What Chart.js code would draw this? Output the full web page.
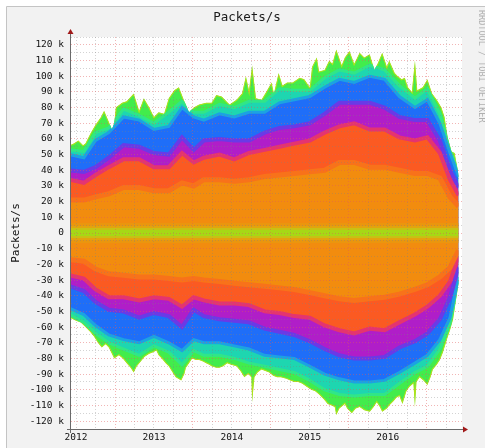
<!DOCTYPE html>
<html>
<head>
<meta charset="utf-8">
<script src="https://cdn.jsdelivr.net/npm/chart.js@4.4.1/dist/chart.umd.min.js"></script>
<style>
  html, body { margin: 0; padding: 0; background: #fff; }
  canvas { display: block; }
</style>
</head>
<body>
<canvas id="myChart" width="485" height="448"></canvas>
<script>
// outer envelope, upper half (k packets/s)
const envTopYears = [2011.92, 2011.97, 2012.03, 2012.09, 2012.12, 2012.19, 2012.25, 2012.32, 2012.36, 2012.42,
  2012.46, 2012.49, 2012.51, 2012.59, 2012.65, 2012.74, 2012.81, 2012.87, 2012.94, 2013.00,
  2013.06, 2013.13, 2013.19, 2013.26, 2013.32, 2013.39, 2013.45, 2013.51, 2013.58, 2013.67,
  2013.74, 2013.80, 2013.87, 2013.97, 2014.06, 2014.13, 2014.18, 2014.22, 2014.26, 2014.31,
  2014.38, 2014.44, 2014.51, 2014.54, 2014.60, 2014.65, 2014.71, 2014.78, 2014.87, 2014.93,
  2015.00, 2015.03, 2015.09, 2015.12, 2015.19, 2015.25, 2015.29, 2015.34, 2015.41, 2015.45,
  2015.51, 2015.57, 2015.64, 2015.70, 2015.77, 2015.83, 2015.87, 2015.93, 2015.99, 2016.02,
  2016.09, 2016.13, 2016.18, 2016.22, 2016.26, 2016.31, 2016.35, 2016.38, 2016.45, 2016.51,
  2016.57, 2016.63, 2016.69, 2016.73, 2016.77, 2016.82, 2016.86, 2016.90, 2016.91];
const envTopK = [56, 57, 59, 56, 57, 64, 69, 74, 78, 71,
  66, 70, 80, 83, 84, 89, 78, 86, 80, 74,
  77, 76, 86, 91, 93, 84, 77, 80, 82, 83,
  83, 88, 87, 82, 85, 89, 100, 91, 107, 86,
  85, 90, 96, 89, 102, 94, 96, 96, 99, 98,
  93, 106, 112, 103, 104, 110, 108, 117, 107, 112,
  116, 108, 115, 112, 114, 104, 108, 115, 106, 110,
  102, 100, 98, 99, 93, 90, 110, 91, 93, 98,
  89, 85, 80, 74, 61, 52, 51, 40, 36];

// outer envelope, lower half
const envBotYears = [2011.92, 2012.00, 2012.06, 2012.12, 2012.18, 2012.23, 2012.28, 2012.33, 2012.38, 2012.42,
  2012.49, 2012.55, 2012.60, 2012.65, 2012.70, 2012.74, 2012.78, 2012.83, 2012.88, 2012.94,
  2012.99, 2013.03, 2013.06, 2013.10, 2013.15, 2013.19, 2013.24, 2013.28, 2013.35, 2013.39,
  2013.41, 2013.45, 2013.49, 2013.54, 2013.58, 2013.63, 2013.67, 2013.71, 2013.74, 2013.80,
  2013.84, 2013.89, 2013.94, 2013.99, 2014.06, 2014.11, 2014.16, 2014.21, 2014.25, 2014.26,
  2014.29, 2014.33, 2014.38, 2014.43, 2014.48, 2014.53, 2014.58, 2014.63, 2014.70, 2014.75,
  2014.80, 2014.85, 2014.90, 2014.96, 2015.02, 2015.07, 2015.12, 2015.18, 2015.23, 2015.28,
  2015.32, 2015.34, 2015.38, 2015.45, 2015.48, 2015.54, 2015.59, 2015.64, 2015.70, 2015.77,
  2015.82, 2015.86, 2015.90, 2015.93, 2015.99, 2016.02, 2016.08, 2016.11, 2016.15, 2016.19,
  2016.24, 2016.28, 2016.33, 2016.35, 2016.37, 2016.41, 2016.46, 2016.51, 2016.55, 2016.58,
  2016.63, 2016.67, 2016.71, 2016.76, 2016.80, 2016.84, 2016.87, 2016.91];
const envBotK = [-54, -56, -57, -60, -63, -66, -70, -73, -71, -73,
  -80, -78, -80, -83, -86, -89, -85, -82, -79, -77,
  -76, -75, -78, -80, -83, -85, -89, -92, -94, -90,
  -86, -83, -80, -81, -81, -82, -83, -84, -85, -86,
  -86, -85, -83, -84, -85, -88, -92, -90, -92, -108,
  -92, -89, -87, -88, -89, -91, -92, -92, -93, -94,
  -95, -95, -96, -98, -100, -101, -103, -106, -109, -110,
  -111, -116, -112, -109, -112, -115, -112, -111, -113, -114,
  -111, -108, -111, -114, -112, -110, -107, -105, -104, -109,
  -101, -98, -96, -111, -95, -92, -94, -97, -92, -87,
  -84, -81, -76, -68, -62, -55, -45, -32];

// colour band edges, read on a coarser time grid
const bandYears = [2011.92, 2012.10, 2012.25, 2012.42, 2012.61, 2012.81, 2013.00, 2013.19, 2013.36, 2013.51,
  2013.64, 2013.84, 2014.03, 2014.22, 2014.42, 2014.61, 2014.80, 2015.00, 2015.19, 2015.38,
  2015.57, 2015.77, 2015.96, 2016.15, 2016.35, 2016.51, 2016.67, 2016.80, 2016.91];
const tealTopK   = [53, 52, 64, 67, 79, 75, 70, 77, 84, 77, 77, 82, 80, 84, 84, 92, 91, 91, 99, 104, 102, 107, 104, 94, 86, 92, 76, 53, 38];
const blueTopK   = [50, 48, 59, 64, 74, 72, 66, 68, 80, 74, 72, 76, 74, 77, 77, 83, 85, 87, 93, 98, 96, 100, 98, 87, 80, 85, 70, 51, 36];
const purpleTopK = [40, 39, 42, 48, 56, 55, 51, 50, 61, 53, 59, 60, 59, 59, 64, 67, 68, 70, 76, 83, 83, 83, 80, 74, 72, 72, 59, 40, 29];
const redTopK    = [34, 32, 37, 42, 47, 47, 42, 42, 51, 45, 48, 50, 47, 51, 53, 55, 57, 59, 64, 68, 70, 66, 66, 61, 59, 61, 51, 34, 24];
const orangeTopK = [21, 21, 23, 25, 29, 29, 27, 27, 32, 30, 34, 34, 33, 34, 36, 37, 38, 39, 40, 45, 45, 42, 42, 40, 38, 38, 35, 23, 17];
const tealBotK   = [-52, -57, -64, -70, -74, -78, -72, -76, -84, -75, -78, -78, -80, -83, -85, -87, -89, -94, -100, -103, -104, -103, -103, -96, -89, -85, -74, -58, -30];
const blueBotK   = [-48, -52, -59, -65, -68, -70, -66, -70, -75, -68, -70, -70, -72, -74, -78, -79, -80, -85, -90, -93, -95, -95, -94, -89, -83, -78, -68, -54, -28];
const purpleBotK = [-34, -37, -44, -49, -50, -54, -51, -53, -60, -49, -53, -55, -56, -57, -61, -63, -65, -69, -74, -78, -80, -80, -79, -73, -69, -64, -55, -41, -22];
const redBotK    = [-27, -29, -36, -41, -41, -43, -41, -42, -47, -41, -43, -45, -45, -46, -50, -51, -53, -54, -59, -62, -64, -61, -62, -57, -52, -47, -40, -31, -15];
const orangeBotK = [-17, -18, -23, -26, -27, -28, -28, -29, -30, -29, -30, -31, -32, -33, -34, -35, -36, -38, -40, -42, -43, -42, -41, -39, -36, -33, -28, -22, -11];

// thin bright line around zero
const coreYears = [2011.92, 2016.91];
const haloTopK = [5.5, 5.5];
const haloBotK = [-5.5, -5.5];
const coreTopK = [2.5, 2.5];
const coreBotK = [-2.5, -2.5];

const yearLabels = [2012, 2013, 2014, 2015, 2016];
const yLabelK = [-120, -110, -100, -90, -80, -70, -60, -50, -40, -30, -20, -10, 0,
  10, 20, 30, 40, 50, 60, 70, 80, 90, 100, 110, 120];

const pts = (xs, ys) => xs.map((x, i) => ({ x: x, y: ys[i] }));

const quarterTicks = [];
yearLabels.forEach(y => { [0, 0.25, 0.5, 0.75].forEach(q => quarterTicks.push(y + q)); });
const yGridTicks = [];
for (let v = -125; v <= 125; v += 5) yGridTicks.push(v);

const FONT = 'DejaVu Sans Mono';
Chart.defaults.font.family = FONT;

// fill = band colour, edge = blend towards the next band out
function band(data, color, edge, width) {
  return {
    data: data,
    backgroundColor: color,
    borderColor: edge,
    borderWidth: width,
    pointRadius: 0,
    fill: 'origin',
    tension: 0
  };
}

// innermost first so it ends up on top
const datasets = [
  band(pts(coreYears, coreTopK), '#a6d816', '#c8c014', 2),
  band(pts(coreYears, coreBotK), '#a6d816', '#c8c014', 2),
  band(pts(coreYears, haloTopK), '#e2a40e', '#ea960e', 3),
  band(pts(coreYears, haloBotK), '#e2a40e', '#ea960e', 3),
  band(pts(bandYears, orangeTopK), '#f28c0e', '#f8721a', 5),
  band(pts(bandYears, orangeBotK), '#f28c0e', '#f8721a', 5),
  band(pts(bandYears, redTopK), '#fb5a22', '#e43470', 4),
  band(pts(bandYears, redBotK), '#fb5a22', '#e43470', 4),
  band(pts(bandYears, purpleTopK), '#b01ec8', '#6a3ae6', 4),
  band(pts(bandYears, purpleBotK), '#b01ec8', '#6a3ae6', 4),
  band(pts(bandYears, blueTopK), '#1f6ef8', '#1ca2e2', 3),
  band(pts(bandYears, blueBotK), '#1f6ef8', '#1ca2e2', 3),
  band(pts(bandYears, tealTopK), '#1ed6b0', '#30e688', 3),
  band(pts(bandYears, tealBotK), '#1ed6b0', '#30e688', 3),
  band(pts(envTopYears, envTopK), '#42ec4c', '#b2e21a', 2),
  band(pts(envBotYears, envBotK), '#42ec4c', '#b2e21a', 2)
];
const iEnvTop = datasets.length - 2;
const iEnvBot = datasets.length - 1;

// clip every band to the outer envelope
const envelopeClip = {
  id: 'envelopeClip',
  beforeDatasetsDraw(chart) {
    const top = chart.getDatasetMeta(iEnvTop).data;
    const bot = chart.getDatasetMeta(iEnvBot).data;
    const y0 = chart.scales.y.getPixelForValue(0);
    const ctx = chart.ctx;
    ctx.save();
    ctx.beginPath();
    ctx.moveTo(top[0].x, y0);
    top.forEach(p => ctx.lineTo(p.x, p.y));
    ctx.lineTo(top[top.length - 1].x, y0);
    ctx.lineTo(bot[bot.length - 1].x, y0);
    for (let i = bot.length - 1; i >= 0; i--) ctx.lineTo(bot[i].x, bot[i].y);
    ctx.lineTo(bot[0].x, y0);
    ctx.closePath();
    ctx.clip();
  },
  afterDatasetsDraw(chart) {
    chart.ctx.restore();
  }
};

const rrdFrame = {
  id: 'rrdFrame',
  beforeDraw(chart) {
    const ctx = chart.ctx, a = chart.chartArea;
    const w = chart.width, h = chart.height;
    ctx.save();
    ctx.fillStyle = '#ffffff';
    ctx.fillRect(0, 0, w, h);
    ctx.fillStyle = '#f2f2f2';
    ctx.fillRect(7, 7, w - 7, h - 7);
    ctx.strokeStyle = '#c4c4c4';
    ctx.lineWidth = 1;
    ctx.beginPath();
    ctx.moveTo(6.5, h);
    ctx.lineTo(6.5, 6.5);
    ctx.lineTo(w, 6.5);
    ctx.stroke();
    ctx.fillStyle = '#ffffff';
    ctx.fillRect(a.left, a.top, a.right - a.left, a.bottom - a.top);
    ctx.restore();
  },
  afterDraw(chart) {
    const ctx = chart.ctx, a = chart.chartArea;
    ctx.save();
    // axes
    ctx.strokeStyle = '#6a6a6a';
    ctx.lineWidth = 1;
    ctx.beginPath();
    ctx.moveTo(a.left - 0.5, a.bottom + 4);
    ctx.lineTo(a.left - 0.5, a.top - 4);
    ctx.moveTo(a.left - 4, a.bottom + 0.5);
    ctx.lineTo(a.right + 2, a.bottom + 0.5);
    ctx.stroke();
    ctx.fillStyle = '#a01818';
    ctx.beginPath();
    ctx.moveTo(a.left - 3.5, a.top - 3);
    ctx.lineTo(a.left + 2.5, a.top - 3);
    ctx.lineTo(a.left - 0.5, a.top - 8);
    ctx.closePath();
    ctx.fill();
    ctx.beginPath();
    ctx.moveTo(a.right + 1, a.bottom - 2.5);
    ctx.lineTo(a.right + 1, a.bottom + 3.5);
    ctx.lineTo(a.right + 6, a.bottom + 0.5);
    ctx.closePath();
    ctx.fill();
    // title
    ctx.fillStyle = '#1a1a1a';
    ctx.font = '12.5px ' + FONT;
    ctx.textAlign = 'center';
    ctx.textBaseline = 'middle';
    ctx.fillText('Packets/s', 247, 18);
    // watermark
    ctx.translate(481.5, 10);
    ctx.rotate(Math.PI / 2);
    ctx.fillStyle = '#b0b0b0';
    ctx.font = '8.5px ' + FONT;
    ctx.textAlign = 'left';
    ctx.fillText('RRDTOOL / TOBI OETIKER', 0, 0);
    ctx.restore();
  }
};

const gridRed = 'rgba(224, 90, 90, 0.45)';
const gridGray = 'rgba(130, 130, 130, 0.35)';

new Chart(document.getElementById('myChart').getContext('2d'), {
  type: 'line',
  data: { datasets: datasets },
  options: {
    responsive: false,
    animation: false,
    events: [],
    layout: { padding: { left: 0, right: 23, top: 37, bottom: 0 } },
    plugins: {
      legend: { display: false },
      tooltip: { enabled: false },
      title: { display: false }
    },
    scales: {
      x: {
        type: 'linear',
        min: 2011.935,
        max: 2016.954,
        bounds: 'data',
        afterBuildTicks: s => { s.ticks = quarterTicks.map(v => ({ value: v })); },
        afterFit: s => { s.height = 19; },
        ticks: {
          autoSkip: false,
          maxRotation: 0,
          padding: 3,
          color: '#111',
          font: { size: 9.5 },
          callback: v => yearLabels.includes(v) ? String(v) : ''
        },
        grid: {
          z: 1,
          drawTicks: false,
          lineWidth: 1,
          color: c => (c.tick && c.tick.value % 1 === 0.5) ? gridRed : gridGray
        },
        border: { display: false, dash: [1, 2] }
      },
      y: {
        type: 'linear',
        min: -125,
        max: 125,
        bounds: 'data',
        afterBuildTicks: s => { s.ticks = yGridTicks.map(v => ({ value: v })); },
        afterFit: s => { s.width = 71; },
        ticks: {
          autoSkip: false,
          padding: 7,
          color: '#111',
          font: { size: 9.5 },
          callback: v => yLabelK.includes(v) ? (v === 0 ? '0' : v + ' k') : ''
        },
        grid: {
          z: 1,
          drawTicks: false,
          lineWidth: 1,
          color: c => (c.tick && c.tick.value % 10 === 0) ? gridRed : gridGray
        },
        border: { display: false, dash: [1, 2] },
        title: {
          display: true,
          text: 'Packets/s',
          color: '#111',
          font: { size: 11 },
          padding: { top: 10, bottom: 0 }
        }
      }
    }
  },
  plugins: [envelopeClip, rrdFrame]
});
</script>
</body>
</html>
